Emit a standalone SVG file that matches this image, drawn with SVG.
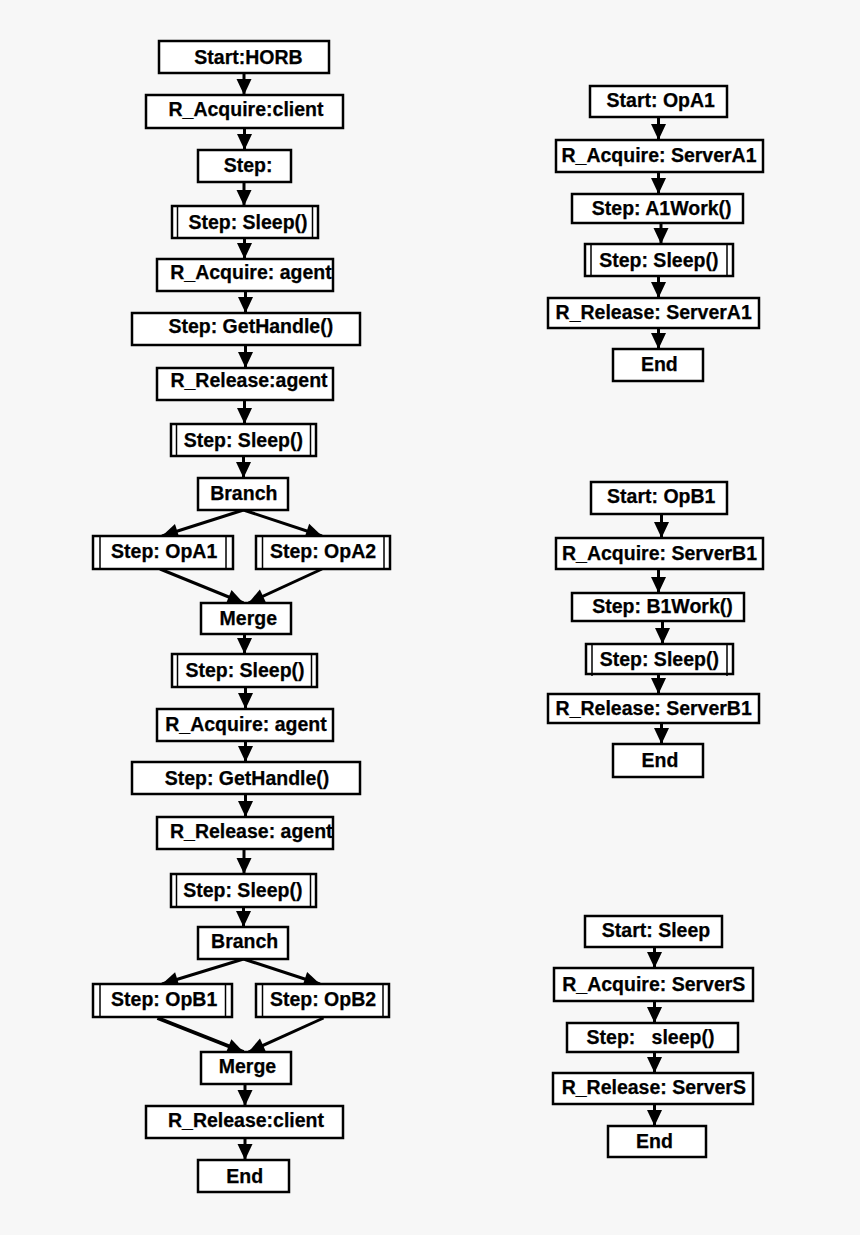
<svg xmlns="http://www.w3.org/2000/svg" width="860" height="1235" viewBox="0 0 860 1235">
<style>
.bg{fill:#f7f7f7}
.box{fill:#ffffff;stroke:#000;stroke-width:2.5}
.bar{stroke:#000;stroke-width:1.5;fill:none}
.lbl{font-family:"Liberation Sans",Arial,sans-serif;font-weight:bold;font-size:19.5px;fill:#000;stroke:#000;stroke-width:0.25;text-anchor:middle;white-space:pre}
.con{stroke:#000;stroke-width:3;fill:none;marker-end:url(#ah)}
</style>
<defs>
<marker id="ah" markerUnits="userSpaceOnUse" markerWidth="18" markerHeight="18" viewBox="0 0 18 18" refX="17" refY="9" orient="auto">
<path d="M1,1.5 L17,9 L1,16.5 Z" fill="#000"/>
</marker>
</defs>
<rect class="bg" x="0" y="0" width="860" height="1235"/>

<g id="connectors">
<line class="con" x1="244" y1="73" x2="244" y2="95"/>
<line class="con" x1="244.5" y1="128" x2="244.5" y2="150"/>
<line class="con" x1="244" y1="182" x2="244" y2="206"/>
<line class="con" x1="244.5" y1="238" x2="244.5" y2="259"/>
<line class="con" x1="245.5" y1="291" x2="245.5" y2="313"/>
<line class="con" x1="245.5" y1="345" x2="245.5" y2="368"/>
<line class="con" x1="244.5" y1="400" x2="244.5" y2="424"/>
<line class="con" x1="243.5" y1="456" x2="243.5" y2="478"/>
<line class="con" x1="243.5" y1="510" x2="162" y2="536"/>
<line class="con" x1="243.5" y1="510" x2="322" y2="536"/>
<line class="con" x1="160" y1="569" x2="243.5" y2="603"/>
<line class="con" x1="322" y1="569" x2="248.5" y2="603"/>
<line class="con" x1="244.5" y1="634" x2="244.5" y2="654"/>
<line class="con" x1="245.5" y1="687" x2="245.5" y2="709"/>
<line class="con" x1="245.5" y1="741" x2="245.5" y2="762"/>
<line class="con" x1="245.5" y1="794" x2="245.5" y2="817"/>
<line class="con" x1="244" y1="849" x2="244" y2="874"/>
<line class="con" x1="243.5" y1="907" x2="243.5" y2="927"/>
<line class="con" x1="243.5" y1="959" x2="162" y2="984"/>
<line class="con" x1="243.5" y1="959" x2="320" y2="984"/>
<line class="con" x1="157.5" y1="1018" x2="243.5" y2="1052" style="stroke-width:4"/>
<line class="con" x1="323.5" y1="1018" x2="248.5" y2="1052"/>
<line class="con" x1="245" y1="1084" x2="245" y2="1106"/>
<line class="con" x1="245" y1="1138" x2="245" y2="1160"/>

<line class="con" x1="658.5" y1="117" x2="658.5" y2="140"/>
<line class="con" x1="658.5" y1="172" x2="658.5" y2="194"/>
<line class="con" x1="661" y1="223" x2="661" y2="244"/>
<line class="con" x1="658.5" y1="276" x2="658.5" y2="298"/>
<line class="con" x1="658.5" y1="328" x2="658.5" y2="349"/>

<line class="con" x1="661.5" y1="514" x2="661.5" y2="538"/>
<line class="con" x1="658.5" y1="569" x2="658.5" y2="593"/>
<line class="con" x1="662.5" y1="621" x2="662.5" y2="644"/>
<line class="con" x1="658.5" y1="674" x2="658.5" y2="694"/>
<line class="con" x1="661.5" y1="723" x2="661.5" y2="744"/>

<line class="con" x1="654.5" y1="947" x2="654.5" y2="968"/>
<line class="con" x1="654.5" y1="1001" x2="654.5" y2="1023"/>
<line class="con" x1="654.5" y1="1052" x2="654.5" y2="1073"/>
<line class="con" x1="654.5" y1="1104" x2="654.5" y2="1126"/>
</g>

<g id="n_start_horb"><rect class="box" x="159" y="41" width="170" height="32"/><text class="lbl" x="248.5" y="64">Start:HORB</text></g>
<g id="n_acq_client"><rect class="box" x="146" y="95" width="197" height="33"/><text class="lbl" x="246" y="116">R_Acquire:client</text></g>
<g id="n_step"><rect class="box" x="198" y="150" width="93" height="32"/><text class="lbl" x="248" y="172">Step:</text></g>
<g id="n_sleep1"><rect class="box" x="172" y="206" width="146" height="32"/><line class="bar" x1="177.5" y1="206" x2="177.5" y2="239"/><line class="bar" x1="312.5" y1="206" x2="312.5" y2="239"/><text class="lbl" x="248" y="229">Step: Sleep()</text></g>
<g id="n_acq_agent1"><rect class="box" x="157" y="259" width="176" height="32"/><text class="lbl" x="251" y="279">R_Acquire: agent</text></g>
<g id="n_gethandle1"><rect class="box" x="132" y="313" width="228" height="32"/><text class="lbl" x="250.8" y="333">Step: GetHandle()</text></g>
<g id="n_rel_agent1"><rect class="box" x="157" y="368" width="176" height="32"/><text class="lbl" x="249" y="387">R_Release:agent</text></g>
<g id="n_sleep2"><rect class="box" x="171" y="424" width="145" height="32"/><line class="bar" x1="176.5" y1="424" x2="176.5" y2="457"/><line class="bar" x1="310.5" y1="424" x2="310.5" y2="457"/><text class="lbl" x="243.3" y="447">Step: Sleep()</text></g>
<g id="n_branch1"><rect class="box" x="198" y="478" width="90" height="32"/><text class="lbl" x="243.8" y="500">Branch</text></g>
<g id="n_opa1"><rect class="box" x="93" y="536" width="140" height="33"/><line class="bar" x1="100" y1="536" x2="100" y2="570"/><line class="bar" x1="226" y1="536" x2="226" y2="570"/><text class="lbl" x="164.2" y="558">Step: OpA1</text></g>
<g id="n_opa2"><rect class="box" x="256" y="536" width="134" height="33"/><line class="bar" x1="262.5" y1="536" x2="262.5" y2="570"/><line class="bar" x1="384" y1="536" x2="384" y2="570"/><text class="lbl" x="323" y="558">Step: OpA2</text></g>
<g id="n_merge1"><rect class="box" x="201" y="603" width="90" height="31"/><text class="lbl" x="248.3" y="625">Merge</text></g>
<g id="n_sleep3"><rect class="box" x="172" y="654" width="145" height="33"/><line class="bar" x1="177.5" y1="654" x2="177.5" y2="688"/><line class="bar" x1="311.5" y1="654" x2="311.5" y2="688"/><text class="lbl" x="245" y="677">Step: Sleep()</text></g>
<g id="n_acq_agent2"><rect class="box" x="157" y="709" width="176" height="32"/><text class="lbl" x="246" y="731">R_Acquire: agent</text></g>
<g id="n_gethandle2"><rect class="box" x="132" y="762" width="228" height="32"/><text class="lbl" x="247" y="785">Step: GetHandle()</text></g>
<g id="n_rel_agent2"><rect class="box" x="157" y="817" width="176" height="32"/><text class="lbl" x="251.3" y="838">R_Release: agent</text></g>
<g id="n_sleep4"><rect class="box" x="171" y="874" width="145" height="33"/><line class="bar" x1="176.5" y1="874" x2="176.5" y2="908"/><line class="bar" x1="310.5" y1="874" x2="310.5" y2="908"/><text class="lbl" x="242.8" y="897">Step: Sleep()</text></g>
<g id="n_branch2"><rect class="box" x="198" y="927" width="90" height="32"/><text class="lbl" x="244.7" y="948">Branch</text></g>
<g id="n_opb1"><rect class="box" x="93" y="984" width="139" height="33"/><line class="bar" x1="100" y1="984" x2="100" y2="1018"/><line class="bar" x1="225.5" y1="984" x2="225.5" y2="1018"/><text class="lbl" x="164.2" y="1006">Step: OpB1</text></g>
<g id="n_opb2"><rect class="box" x="256" y="984" width="133" height="33"/><line class="bar" x1="262.5" y1="984" x2="262.5" y2="1018"/><line class="bar" x1="383" y1="984" x2="383" y2="1018"/><text class="lbl" x="323" y="1006">Step: OpB2</text></g>
<g id="n_merge2"><rect class="box" x="201" y="1052" width="90" height="32"/><text class="lbl" x="247.5" y="1073">Merge</text></g>
<g id="n_rel_client"><rect class="box" x="146" y="1106" width="197" height="32"/><text class="lbl" x="246" y="1127">R_Release:client</text></g>
<g id="n_end1"><rect class="box" x="198" y="1160" width="91" height="32"/><text class="lbl" x="244.7" y="1183">End</text></g>

<g id="a_start"><rect class="box" x="590" y="86" width="137" height="31"/><text class="lbl" x="660.8" y="107">Start: OpA1</text></g>
<g id="a_acq"><rect class="box" x="556" y="140" width="207" height="32"/><text class="lbl" x="659" y="162">R_Acquire: ServerA1</text></g>
<g id="a_work"><rect class="box" x="572" y="194" width="171" height="29"/><text class="lbl" x="661.7" y="215">Step: A1Work()</text></g>
<g id="a_sleep"><rect class="box" x="585" y="244" width="148" height="32"/><line class="bar" x1="591" y1="244" x2="591" y2="277"/><line class="bar" x1="727" y1="244" x2="727" y2="277"/><text class="lbl" x="658.8" y="267">Step: Sleep()</text></g>
<g id="a_rel"><rect class="box" x="548" y="298" width="211" height="30"/><text class="lbl" x="653.7" y="319">R_Release: ServerA1</text></g>
<g id="a_end"><rect class="box" x="613" y="349" width="90" height="32"/><text class="lbl" x="659.3" y="371">End</text></g>

<g id="b_start"><rect class="box" x="591" y="482" width="136" height="32"/><text class="lbl" x="661.3" y="503">Start: OpB1</text></g>
<g id="b_acq"><rect class="box" x="556" y="538" width="207" height="31"/><text class="lbl" x="659.5" y="560">R_Acquire: ServerB1</text></g>
<g id="b_work"><rect class="box" x="572" y="593" width="172" height="28"/><text class="lbl" x="662.5" y="613">Step: B1Work()</text></g>
<g id="b_sleep"><rect class="box" x="586" y="644" width="147" height="30"/><line class="bar" x1="592" y1="644" x2="592" y2="676"/><line class="bar" x1="727" y1="644" x2="727" y2="676"/><text class="lbl" x="659.3" y="666">Step: Sleep()</text></g>
<g id="b_rel"><rect class="box" x="548" y="694" width="211" height="29"/><text class="lbl" x="653.7" y="715">R_Release: ServerB1</text></g>
<g id="b_end"><rect class="box" x="613" y="744" width="90" height="33"/><text class="lbl" x="660" y="767">End</text></g>

<g id="s_start"><rect class="box" x="585" y="916" width="137" height="31"/><text class="lbl" x="656" y="937">Start: Sleep</text></g>
<g id="s_acq"><rect class="box" x="554" y="968" width="199" height="33"/><text class="lbl" x="653.8" y="991">R_Acquire: ServerS</text></g>
<g id="s_step"><rect class="box" x="567" y="1023" width="171" height="29"/><text class="lbl" x="650.5" y="1044">Step:   sleep()</text></g>
<g id="s_rel"><rect class="box" x="553" y="1073" width="200" height="31"/><text class="lbl" x="653.8" y="1094">R_Release: ServerS</text></g>
<g id="s_end"><rect class="box" x="608" y="1126" width="98" height="31"/><text class="lbl" x="654.5" y="1148">End</text></g>
</svg>
